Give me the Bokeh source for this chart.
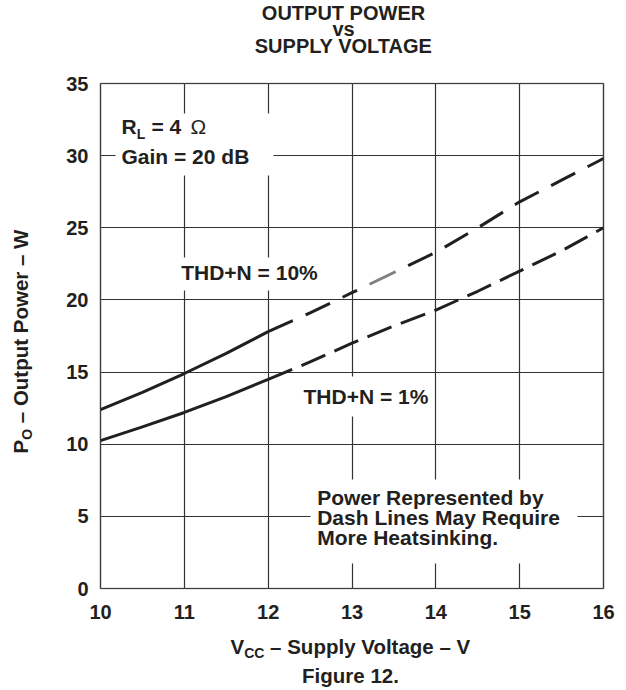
import numpy as np
from bokeh.plotting import figure
from bokeh.models import Label, BoxAnnotation, FixedTicker, Range1d, Grid
from bokeh.embed import file_html
from bokeh.resources import INLINE

# ---- data ----
vcc = [10.0, 10.5, 11.0, 11.5, 12.0, 12.5, 13.0, 13.5, 14.0, 14.5, 15.0, 15.5, 16.0]
po_thd10 = [12.4, 13.6, 14.9, 16.3, 17.8, 19.1, 20.5, 21.9, 23.3, 25.0, 26.8, 28.3, 29.8]
po_thd1 = [10.25, 11.2, 12.2, 13.3, 14.5, 15.7, 17.0, 18.2, 19.3, 20.6, 22.0, 23.4, 25.0]
x_ticks = [10, 11, 12, 13, 14, 15, 16]
y_ticks = [0, 5, 10, 15, 20, 25, 30, 35]
solid_until = 12.0
gray_from, gray_to = 13.21, 13.52

# ---- layout (pixels of the canvas) ----
W, H = 626, 690
BOX_L, BOX_R, BOX_T, BOX_B = 100, 603, 83, 588
XMIN, XMAX = x_ticks[0], x_ticks[-1]
YMIN, YMAX = y_ticks[0], y_ticks[-1]
xu = (XMAX - XMIN) / (BOX_R - BOX_L)
yu = (YMAX - YMIN) / (BOX_B - BOX_T)
x_start = XMIN - BOX_L * xu
x_end = XMAX + (W - BOX_R) * xu
y_end = YMAX + BOX_T * yu
y_start = YMIN - (H - BOX_B) * yu


def X(px):
    return x_start + px * xu


def Y(py):
    return y_end - py * yu


FONT = "Liberation Sans"
INK = "#231f20"

vcc_a = np.array(vcc)
p10_a = np.array(po_thd10)
p1_a = np.array(po_thd1)


def segment(x0, x1, xs, ys):
    inner = xs[(xs > x0) & (xs < x1)]
    sx = np.concatenate([[x0], inner, [x1]])
    return sx, np.interp(sx, xs, ys)


p = figure(width=W, height=H, x_range=Range1d(x_start, x_end), y_range=Range1d(y_start, y_end),
           output_backend="svg", toolbar_location=None, title=None, min_border=0)
p.background_fill_color = "white"
p.border_fill_color = "white"
p.outline_line_color = None

xa, ya = p.xaxis[0], p.yaxis[0]
for ax in (xa, ya):
    ax.axis_line_color = None
    ax.major_tick_line_color = None
    ax.minor_tick_line_color = None
    ax.major_tick_out = 0
    ax.major_tick_in = 0
    ax.major_label_text_font = FONT
    ax.major_label_text_font_style = "bold"
    ax.major_label_text_font_size = "20px"
    ax.major_label_text_color = INK
xa.ticker = FixedTicker(ticks=x_ticks)
ya.ticker = FixedTicker(ticks=y_ticks)
xa.fixed_location = YMIN
ya.fixed_location = XMIN
xa.bounds = (XMIN, XMAX)
ya.bounds = (YMIN, YMAX)
xa.major_label_standoff = 16
ya.major_label_standoff = 12

# grids limited to the box
has_cross = "cross_bounds" in Grid.properties()
for g, tk, cb in ((p.xgrid[0], x_ticks, (YMIN, YMAX)), (p.ygrid[0], y_ticks, (XMIN, XMAX))):
    g.ticker = FixedTicker(ticks=tk)
    g.grid_line_color = "#333333"
    g.grid_line_width = 1.2
    if has_cross:
        g.cross_bounds = cb
    else:
        g.visible = False
if not has_cross:
    p.segment(x0=x_ticks, y0=[YMIN] * len(x_ticks), x1=x_ticks, y1=[YMAX] * len(x_ticks),
              line_color="#333333", line_width=1.2)
    p.segment(x0=[XMIN] * len(y_ticks), y0=y_ticks, x1=[XMAX] * len(y_ticks), y1=y_ticks,
              line_color="#333333", line_width=1.2)

# ---- curves ----
for ys in (p10_a, p1_a):
    sx, sy = segment(XMIN, solid_until, vcc_a, ys)
    p.line(sx, sy, line_color=INK, line_width=3)

sx, sy = segment(solid_until, XMAX, vcc_a, p1_a)
p.line(sx, sy, line_color=INK, line_width=3, line_dash="26 10")
sx, sy = segment(solid_until, gray_from - 0.15, vcc_a, p10_a)
p.line(sx, sy, line_color=INK, line_width=3, line_dash="27 14")
sx, sy = segment(gray_from, gray_to, vcc_a, p10_a)
p.line(sx, sy, line_color="#7f7f7f", line_width=3)
sx, sy = segment(gray_to + 0.15, XMAX, vcc_a, p10_a)
p.line(sx, sy, line_color=INK, line_width=3, line_dash="27 14")

# ---- white boxes behind in-plot notes (pixel extents) ----
for l, r, t, b in ((115, 273, 113, 175),
                   (175, 322, 257, 290),
                   (297, 433, 376, 416),
                   (310, 577, 479, 563)):
    p.add_layout(BoxAnnotation(left=X(l), right=X(r), bottom=Y(b), top=Y(t),
                               fill_color="white", fill_alpha=1.0, line_color=None))

# plot box outline
p.add_layout(BoxAnnotation(left=XMIN, right=XMAX, bottom=YMIN, top=YMAX,
                           fill_color=None, fill_alpha=0, line_color="#555555", line_width=2))


def lab(px, py, text, size="21px", style="bold", align="left", angle=0.0):
    p.add_layout(Label(x=X(px), y=Y(py), text=text,
                       text_font=FONT, text_font_size=size, text_font_style=style,
                       text_color=INK, text_align=align, text_baseline="middle",
                       angle=angle))


# in-plot notes
lab(121, 125.5, "R")
lab(136.2, 133, "L", size="14px")
lab(151, 125.5, "= 4")
lab(190, 125.5, "\u03a9", style="normal")
lab(121, 156, "Gain = 20 dB")
lab(180.7, 271.7, "THD+N = 10%")
lab(303, 395.5, "THD+N = 1%")
lab(316.7, 497, "Power Represented by")
lab(316.7, 517, "Dash Lines May Require")
lab(316.7, 536.5, "More Heatsinking.")

# title
lab(343, 12, "OUTPUT POWER", size="20px", align="center")
lab(343, 28.5, "vs", size="20px", align="center")
lab(343, 45, "SUPPLY VOLTAGE", size="20px", align="center")

# x-axis label
lab(230, 646, "V", size="20.5px")
lab(243.7, 652, "CC", size="14px")
lab(269.6, 646, "\u2013 Supply Voltage \u2013 V", size="20.5px")
lab(350, 675, "Figure 12.", size="20.5px", align="center")

# y-axis label (rotated)
rot = np.pi / 2
lab(20, 453, "P", size="20.5px", angle=rot)
lab(26, 439.3, "O", size="14px", angle=rot)
lab(20, 422.7, "\u2013 Output Power \u2013 W", size="20.5px", angle=rot)

open("out.html", "w").write(file_html(p, INLINE))
